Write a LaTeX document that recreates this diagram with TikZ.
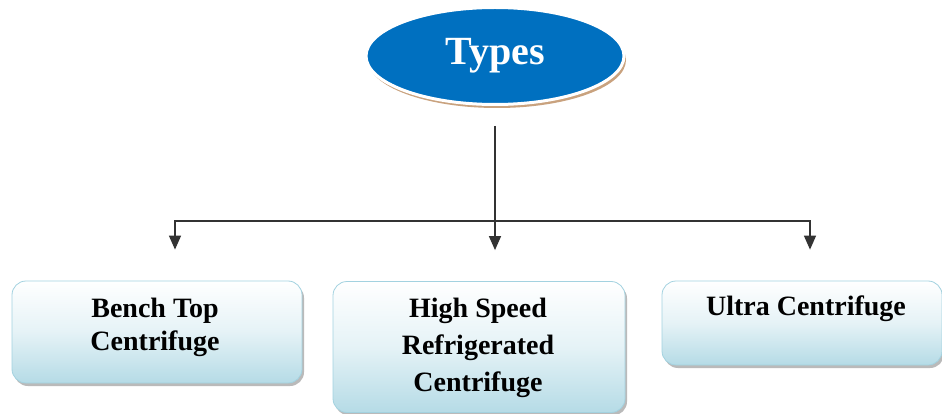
\documentclass[tikz,border=0pt]{standalone}
\usepackage{fontspec}
\setmainfont{Liberation Serif}
\usetikzlibrary{shapes.geometric,shadows,arrows.meta}
\definecolor{typeblue}{HTML}{0070C0}
\definecolor{shadowbrown}{HTML}{C9A27E}
\definecolor{boxblue}{HTML}{B5DBE6}
\definecolor{boxedge}{HTML}{A3D2E0}
\definecolor{linegray}{HTML}{333333}
\tikzset{
  typebox/.style={draw=boxedge, line width=0.8pt, rounded corners=14pt,
    top color=white, bottom color=boxblue, middle color=boxblue!35,
    drop shadow={shadow xshift=2pt, shadow yshift=-3pt, opacity=0.45, fill=black!60}},
  boxtext/.style={font=\bfseries\fontsize{28}{35}\selectfont, align=center, inner sep=0pt},
  conn/.style={draw=linegray, line width=1.4pt},
  arr/.style={conn, -{Triangle[width=12pt,length=14pt]}, shorten >=31pt}
}
\begin{document}
\begin{tikzpicture}[x=1pt,y=-1pt]
\useasboundingbox (0,0) rectangle (942,414);
\fill[white] (0,0) rectangle (942,414);
% ellipse
\fill[shadowbrown] (497,60) ellipse (129pt and 48pt);
\node[ellipse, draw=white, line width=3pt, fill=typeblue, minimum width=258pt, minimum height=97pt,
  text=white, font=\bfseries\fontsize{40}{42}\selectfont, inner sep=0pt] (types) at (495,56) {Types};
% boxes
\node[typebox, minimum width=290pt, minimum height=102pt] (b1) at (157,332) {};
\node[typebox, minimum width=292pt, minimum height=131pt] (b2) at (479,347) {};
\node[typebox, minimum width=280pt, minimum height=84pt] (b3) at (802,323) {};
\node[boxtext, font=\bfseries\fontsize{28}{33}\selectfont] (t1) at (155,327) {Bench Top\\Centrifuge};
\node[boxtext, font=\bfseries\fontsize{28}{37}\selectfont] (t2) at (478,348) {High Speed\\Refrigerated\\Centrifuge};
\node[boxtext] (t3) at (806,309) {Ultra Centrifuge};
% connectors
\coordinate (j) at (495,221);
\draw[conn, shorten <=20pt] (types) -- (j);
\draw[arr] (j) -| ([xshift=18pt]b1.north);
\draw[arr] (j) -- ([xshift=16pt]b2.north);
\draw[arr] (j) -| ([xshift=8pt]b3.north);
\end{tikzpicture}
\end{document}
